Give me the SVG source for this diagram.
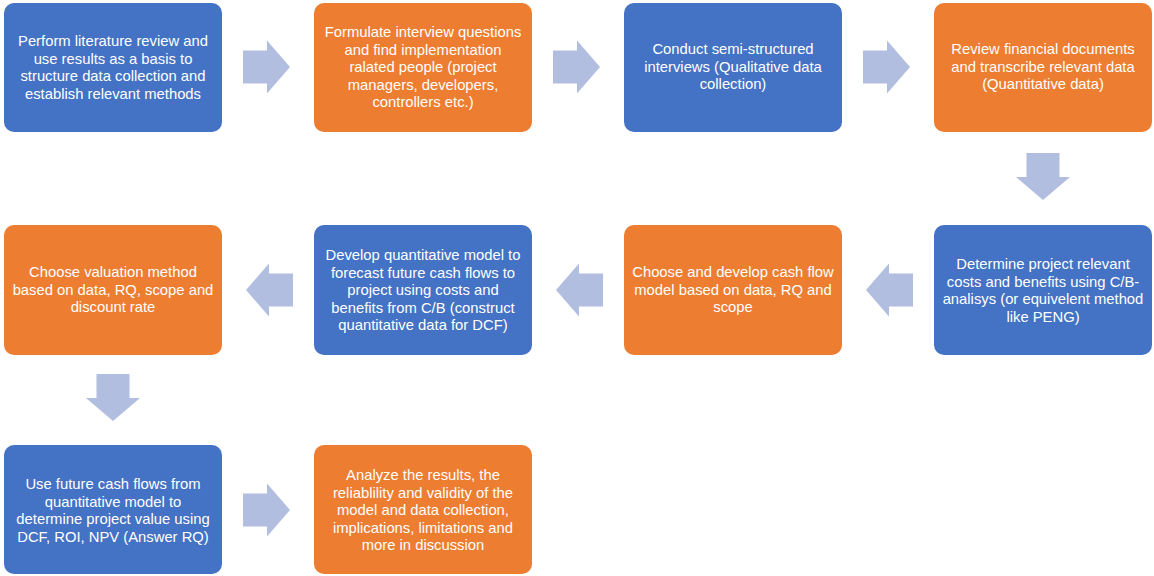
<svg xmlns="http://www.w3.org/2000/svg" width="1154" height="576" viewBox="0 0 1154 576">
  <style>
    .blue { fill: #4472C4; }
    .orange { fill: #ED7D31; }
    .arrow { fill: #B1BEE0; }
    text { font-family: "Liberation Sans", Arial, sans-serif; font-size: 14.8px; fill: #FFFFFF; text-anchor: middle; }
  </style>
  <defs>
    <!-- block arrows drawn pointing right / left / down, origin at tail-centre -->
    <path id="arrowRight" d="M0,-16.5 H24 V-26.5 L47,0 L24,26.5 V16.5 H0 Z"/>
    <path id="arrowLeft" d="M0,-16.5 H-24 V-26.5 L-47,0 L-24,26.5 V16.5 H0 Z"/>
    <path id="arrowDown" d="M-16.5,0 V24 H-27 L0,47 L27,24 H16.5 V0 Z"/>
  </defs>

  <!-- flow connectors -->
  <g id="connectors" class="arrow">
    <use href="#arrowRight" x="243" y="67"/>
    <use href="#arrowRight" x="553" y="67"/>
    <use href="#arrowRight" x="863" y="67"/>
    <use href="#arrowDown" x="1043" y="153"/>
    <use href="#arrowLeft" x="913" y="290"/>
    <use href="#arrowLeft" x="603" y="290"/>
    <use href="#arrowLeft" x="293" y="290"/>
    <use href="#arrowDown" x="113" y="374"/>
    <use href="#arrowRight" x="243" y="510"/>
  </g>

  <!-- row 1 -->
  <g id="step1">
    <rect class="blue" x="4" y="3" width="218" height="129" rx="10"/>
    <text x="113" y="46"><tspan x="113" dy="0">Perform literature review and</tspan><tspan x="113" dy="17.6">use results as a basis to</tspan><tspan x="113" dy="17.6">structure data collection and</tspan><tspan x="113" dy="17.6">establish relevant methods</tspan></text>
  </g>
  <g id="step2">
    <rect class="orange" x="314" y="3" width="218" height="129" rx="10"/>
    <text x="423" y="37"><tspan x="423" dy="0">Formulate interview questions</tspan><tspan x="423" dy="17.6">and find implementation</tspan><tspan x="423" dy="17.6">ralated people (project</tspan><tspan x="423" dy="17.6">managers, developers,</tspan><tspan x="423" dy="17.6">controllers etc.)</tspan></text>
  </g>
  <g id="step3">
    <rect class="blue" x="624" y="3" width="218" height="129" rx="10"/>
    <text x="733" y="54"><tspan x="733" dy="0">Conduct semi-structured</tspan><tspan x="733" dy="17.6">interviews (Qualitative data</tspan><tspan x="733" dy="17.6">collection)</tspan></text>
  </g>
  <g id="step4">
    <rect class="orange" x="934" y="3" width="218" height="129" rx="10"/>
    <text x="1043" y="54"><tspan x="1043" dy="0">Review financial documents</tspan><tspan x="1043" dy="17.6">and transcribe relevant data</tspan><tspan x="1043" dy="17.6">(Quantitative data)</tspan></text>
  </g>

  <!-- row 2 -->
  <g id="step5">
    <rect class="blue" x="934" y="225" width="218" height="130" rx="10"/>
    <text x="1043" y="269"><tspan x="1043" dy="0">Determine project relevant</tspan><tspan x="1043" dy="17.6">costs and benefits using C/B-</tspan><tspan x="1043" dy="17.6">analisys (or equivelent method</tspan><tspan x="1043" dy="17.6">like PENG)</tspan></text>
  </g>
  <g id="step6">
    <rect class="orange" x="624" y="225" width="218" height="130" rx="10"/>
    <text x="733" y="277"><tspan x="733" dy="0">Choose and develop cash flow</tspan><tspan x="733" dy="17.6">model based on data, RQ and</tspan><tspan x="733" dy="17.6">scope</tspan></text>
  </g>
  <g id="step7">
    <rect class="blue" x="314" y="225" width="218" height="130" rx="10"/>
    <text x="423" y="260"><tspan x="423" dy="0">Develop quantitative model to</tspan><tspan x="423" dy="17.6">forecast future cash flows to</tspan><tspan x="423" dy="17.6">project using costs and</tspan><tspan x="423" dy="17.6">benefits from C/B (construct</tspan><tspan x="423" dy="17.6">quantitative data for DCF)</tspan></text>
  </g>
  <g id="step8">
    <rect class="orange" x="4" y="225" width="218" height="130" rx="10"/>
    <text x="113" y="277"><tspan x="113" dy="0">Choose valuation method</tspan><tspan x="113" dy="17.6">based on data, RQ, scope and</tspan><tspan x="113" dy="17.6">discount rate</tspan></text>
  </g>

  <!-- row 3 -->
  <g id="step9">
    <rect class="blue" x="4" y="445" width="218" height="129" rx="10"/>
    <text x="113" y="489"><tspan x="113" dy="0">Use future cash flows from</tspan><tspan x="113" dy="17.6">quantitative model to</tspan><tspan x="113" dy="17.6">determine project value using</tspan><tspan x="113" dy="17.6">DCF, ROI, NPV (Answer RQ)</tspan></text>
  </g>
  <g id="step10">
    <rect class="orange" x="314" y="445" width="218" height="129" rx="10"/>
    <text x="423" y="480"><tspan x="423" dy="0">Analyze the results, the</tspan><tspan x="423" dy="17.6">reliablility and validity of the</tspan><tspan x="423" dy="17.6">model and data collection,</tspan><tspan x="423" dy="17.6">implications, limitations and</tspan><tspan x="423" dy="17.6">more in discussion</tspan></text>
  </g>
</svg>
